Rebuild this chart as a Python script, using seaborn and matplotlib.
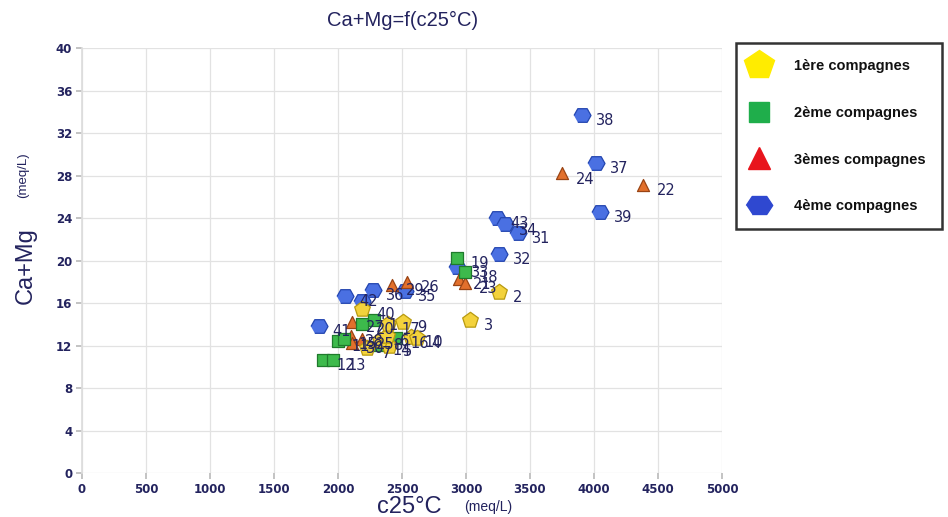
import matplotlib
matplotlib.use("Agg")
import matplotlib.pyplot as plt
from matplotlib.lines import Line2D
import seaborn as sns
import pandas as pd

# Sample identifiers, campaigns and measurements
campaigns = ["1ère compagnes", "2ème compagnes", "3èmes compagnes", "4ème compagnes"]

c1_labels = ["2", "3", "9", "10", "4", "40", "5", "8", "7", "6", "17"]
c1_c25 = [3260, 3030, 2510, 2570, 2620, 2190, 2400, 2330, 2230, 2380, 2390]
c1_camg = [17.0, 14.4, 14.2, 12.8, 12.7, 15.4, 12.0, 12.5, 11.8, 12.9, 14.0]

c2_labels = ["12", "13", "1", "20", "11", "15", "16", "19", "18", "14"]
c2_c25 = [1880, 1965, 2285, 2190, 2000, 2050, 2455, 2930, 2995, 2320]
c2_camg = [10.6, 10.6, 14.4, 14.0, 12.4, 12.6, 12.7, 20.2, 18.9, 12.1]

c3_labels = ["24", "22", "21", "23", "26", "29", "27", "28", "25", "30"]
c3_c25 = [3750, 4380, 2945, 2995, 2540, 2420, 2110, 2100, 2190, 2110]
c3_camg = [28.2, 27.1, 18.3, 17.9, 18.0, 17.7, 14.2, 12.9, 12.6, 12.2]

c4_labels = ["38", "37", "39", "43", "34", "31", "32", "33", "35", "36", "42", "", "41"]
c4_c25 = [3906, 4016, 4047, 3240, 3305, 3405, 3258, 2930, 2520, 2270, 2055, 2190, 1850]
c4_camg = [33.7, 29.2, 24.6, 24.0, 23.4, 22.6, 20.6, 19.4, 17.1, 17.2, 16.7, 16.2, 13.8]

x_ticks = [0, 500, 1000, 1500, 2000, 2500, 3000, 3500, 4000, 4500, 5000]
y_ticks = [0, 4, 8, 12, 16, 20, 24, 28, 32, 36, 40]

frames = []
for name, labs, xs, ys in zip(
    campaigns,
    [c1_labels, c2_labels, c3_labels, c4_labels],
    [c1_c25, c2_c25, c3_c25, c4_c25],
    [c1_camg, c2_camg, c3_camg, c4_camg],
):
    frames.append(pd.DataFrame({"label": labs, "c25": xs, "camg": ys, "campagne": name}))
df = pd.concat(frames, ignore_index=True)

sns.set_theme(style="whitegrid")
plt.rcParams["font.family"] = ["Liberation Sans", "DejaVu Sans"]

navy = "#23235e"
fig = plt.figure(figsize=(9.48, 5.17), dpi=100)
ax = fig.add_axes([0.0865, 0.085, 0.675, 0.822])

# flattened hexagon (wider than tall)
flat_hex = [(-1.0, 0.0), (-0.55, 0.8), (0.55, 0.8), (1.0, 0.0), (0.55, -0.8), (-0.55, -0.8)]

marker_map = {campaigns[0]: "p", campaigns[1]: "s", campaigns[2]: "^", campaigns[3]: flat_hex}
face_map = {campaigns[0]: "#f3d23c", campaigns[1]: "#3dba4c",
            campaigns[2]: "#e2702c", campaigns[3]: "#4a70e2"}
edge_map = {campaigns[0]: "#b89a10", campaigns[1]: "#1f7a2c",
            campaigns[2]: "#9a4414", campaigns[3]: "#2446b0"}
size_map = {campaigns[0]: 140, campaigns[1]: 70, campaigns[2]: 75, campaigns[3]: 150}

# draw in campaign order: hexagons first, pentagons on top
for name in [campaigns[3], campaigns[2], campaigns[1], campaigns[0]]:
    sub = df[df["campagne"] == name]
    sns.scatterplot(data=sub, x="c25", y="camg", ax=ax, marker=marker_map[name],
                    color=face_map[name], edgecolor=edge_map[name], linewidth=0.9,
                    s=size_map[name], legend=False, zorder=3)

for _, r in df.iterrows():
    if r["label"]:
        ax.annotate(r["label"], (r["c25"], r["camg"]), xytext=(10, -4),
                    textcoords="offset points", ha="left", va="center",
                    fontsize=10.5, color=navy, family="DejaVu Sans", zorder=4)

ax.set_xlim(0, 5000)
ax.set_ylim(0, 40)
ax.set_xticks(x_ticks)
ax.set_yticks(y_ticks)
ax.tick_params(axis="both", labelsize=8.5, labelcolor=navy, length=4, color="#bbbbbb",
               left=True, bottom=True, pad=3)
for lab in ax.get_xticklabels() + ax.get_yticklabels():
    lab.set_fontweight("bold")
    lab.set_family("DejaVu Sans")
ax.grid(True, color="#e2e2e2", linewidth=0.9)
for side in ["top", "right", "bottom"]:
    ax.spines[side].set_visible(False)
ax.spines["left"].set_color("#dddddd")
ax.set_xlabel("")
ax.set_ylabel("")
ax.set_facecolor("white")

fig.text(0.425, 0.96, "Ca+Mg=f(c25°C)", ha="center", va="center", fontsize=14.5, color=navy)
fig.text(0.432, 0.02, "c25°C", ha="center", va="center", fontsize=17, color=navy)
fig.text(0.515, 0.02, "(meq/L)", ha="center", va="center", fontsize=10, color=navy)
fig.text(0.027, 0.487, "Ca+Mg", ha="center", va="center", rotation=90, fontsize=17, color=navy)
fig.text(0.024, 0.662, "(meq/L)", ha="center", va="center", rotation=90, fontsize=9.5, color=navy)

legend_hex = [(-1.0, 0.0), (-0.55, 0.68), (0.55, 0.68), (1.0, 0.0), (0.55, -0.68), (-0.55, -0.68)]
handles = [
    Line2D([], [], linestyle="none", marker="p", markersize=22, markerfacecolor="#ffec00",
           markeredgecolor="#ffec00"),
    Line2D([], [], linestyle="none", marker="s", markersize=14, markerfacecolor="#1fae4b",
           markeredgecolor="#1fae4b"),
    Line2D([], [], linestyle="none", marker="^", markersize=16, markerfacecolor="#e8141c",
           markeredgecolor="#e8141c"),
    Line2D([], [], linestyle="none", marker=legend_hex, markersize=19, markerfacecolor="#2f48d0",
           markeredgecolor="#2f48d0"),
]
leg = fig.legend(handles, campaigns, loc="upper left", bbox_to_anchor=(0.776, 0.917),
                 frameon=True, fancybox=False, labelspacing=2.25, handletextpad=1.9,
                 borderpad=1.1, borderaxespad=0, handlelength=1.0,
                 prop={"family": "Liberation Sans", "weight": "bold", "size": 10.5})
leg.get_frame().set_edgecolor("black")
leg.get_frame().set_linewidth(1.8)
for t in leg.get_texts():
    t.set_color("#111111")

fig.savefig("out.png", dpi=100, facecolor="white")
